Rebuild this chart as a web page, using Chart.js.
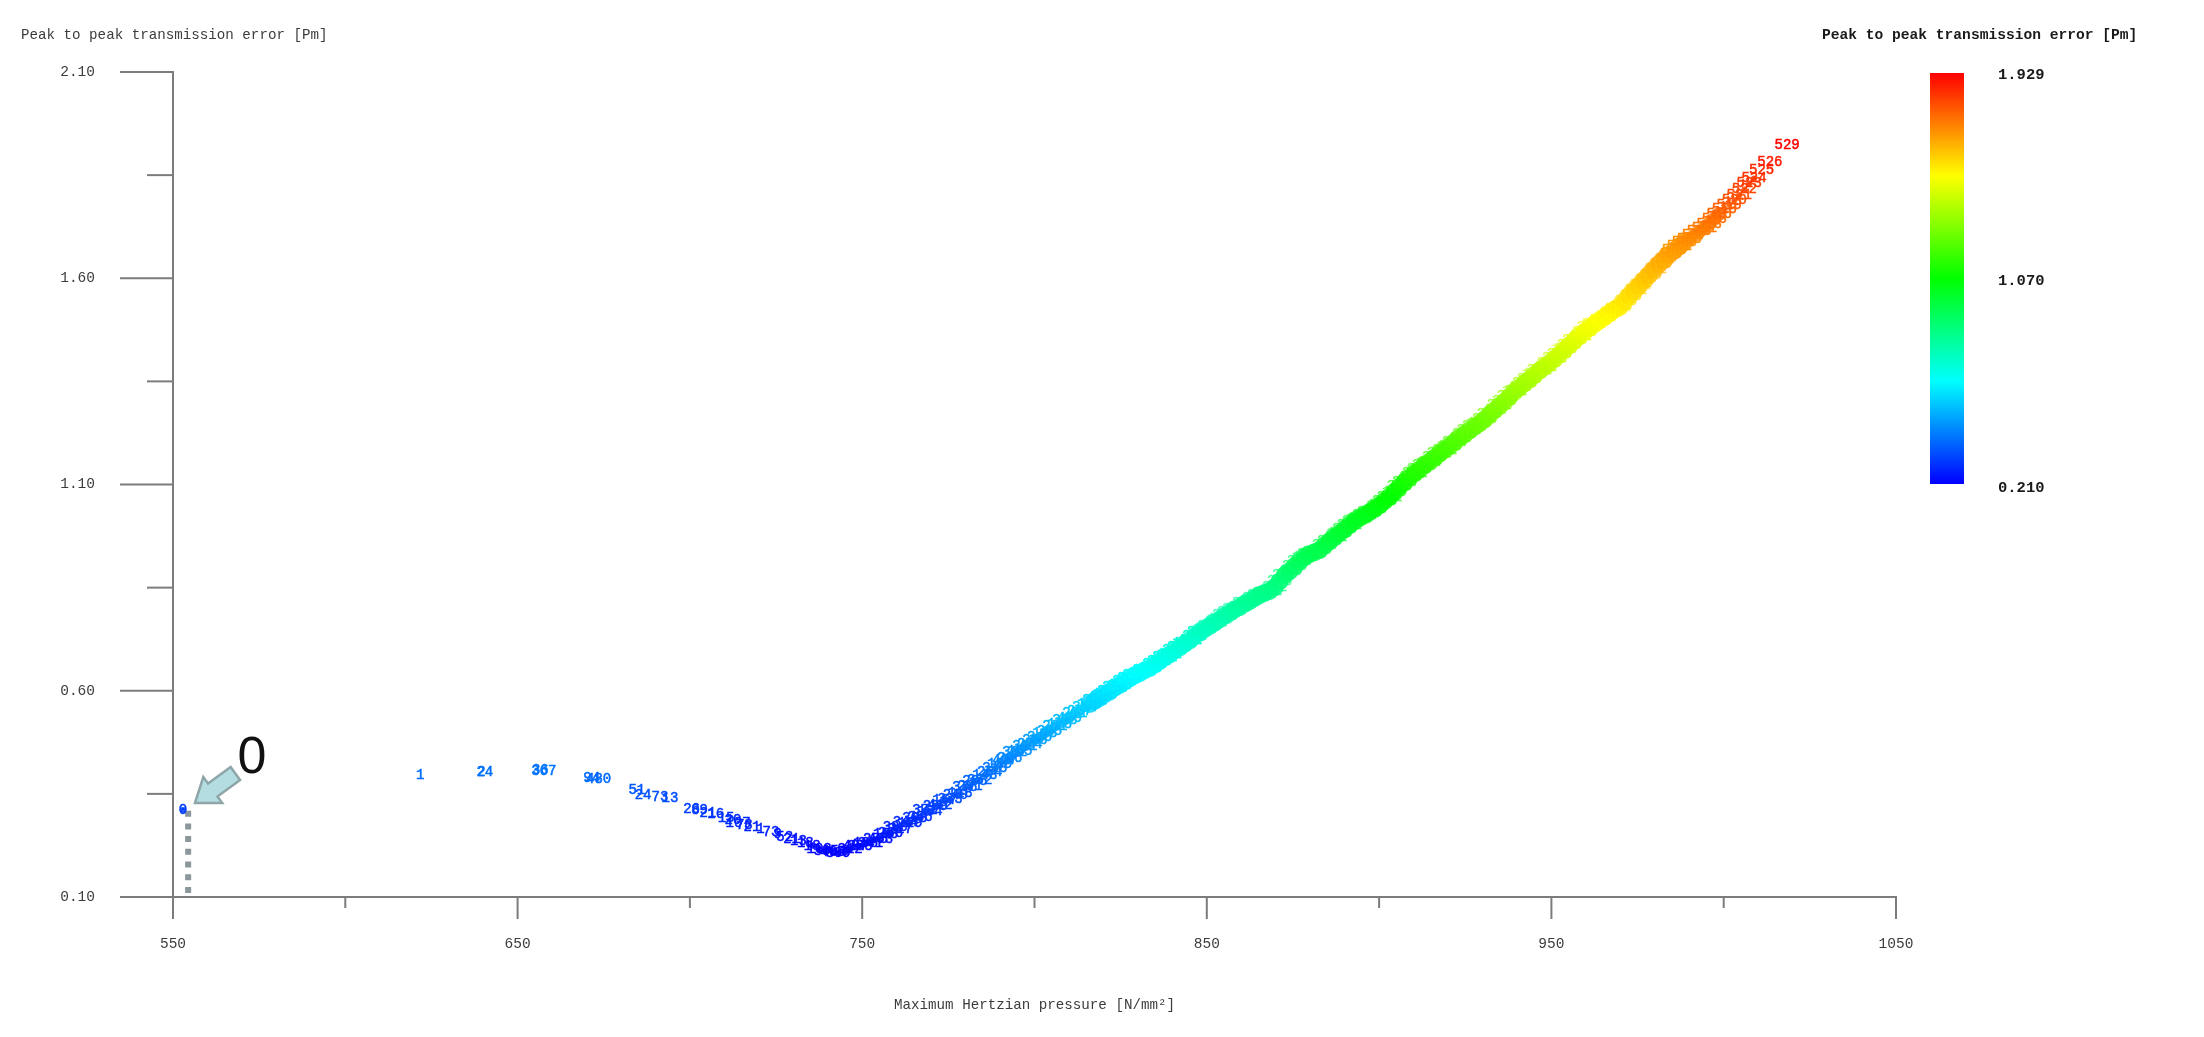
<!DOCTYPE html>
<html><head><meta charset="utf-8">
<script src="https://cdn.jsdelivr.net/npm/chart.js@4"></script>
<style>html,body{margin:0;padding:0;background:#fff}canvas{display:block;filter:blur(.6px)}</style>
</head><body><canvas id="c" width="2204" height="1037"></canvas>
<script>
const yTitle = "Peak to peak transmission error [Pm]";
const xTitle = "Maximum Hertzian pressure [N/mm²]";
const colorbarTitle = "Peak to peak transmission error [Pm]";
const calloutText = "0";
const xTickValues = [550,600,650,700,750,800,850,900,950,1000,1050];
const xTickLabels = ["550","","650","","750","","850","","950","","1050"];
const yTickValues = [0.10,0.35,0.60,0.85,1.10,1.35,1.60,1.85,2.10];
const yTickLabels = ["0.10","","0.60","","1.10","","1.60","","2.10"];
const colorbarValues = [1.929,1.070,0.210];
const dottedPressure = [554.4,554.4];
const dottedError = [0.11,0.31];
const pressure = [552.9,621.7,639.5,640.5,656.6,657.6,671.5,673.5,684.6,686.4,691.3,694.2,
700.5,702.8,705.2,707.5,710.5,712.5,714.0,715.8,718.0,720.5,723.5,725.5,727.5,729.5,731.5,733.5,735.5,737.5,739.5,741.5,743.0,745.0,
746.5,748.0,749.4,751.0,752.4,753.9,755.3,756.8,758.2,759.6,761.0,762.5,763.9,765.3,766.8,768.2,769.7,771.2,772.6,774.0,775.5,777.0,778.4,779.8,781.3,782.7,784.1,785.6,787.0,788.5,789.9,791.4,792.8,794.3,795.7,797.2,798.6,800.1,801.5,803.0,804.4,805.9,807.3,808.8,810.2,811.7,813.1,814.6,816.0,817.5,818.9,820.4,821.8,823.3,824.7,826.2,827.6,829.1,830.5,832.0,833.4,834.9,836.3,837.8,839.2,840.7,842.1,843.6,845.0,846.5,847.9,849.4,850.8,852.3,853.7,855.2,856.6,858.1,859.5,861.0,862.4,863.9,865.3,866.8,868.2,869.7,871.1,872.6,874.0,875.5,876.9,878.4,879.8,881.3,882.7,884.2,885.6,887.1,888.5,890.0,891.4,892.9,894.3,895.8,897.2,898.7,900.1,901.6,903.0,904.5,905.9,907.4,908.8,910.3,911.7,913.2,914.6,916.1,917.5,919.0,920.4,921.9,923.3,924.8,926.2,927.7,929.1,930.6,932.0,933.5,934.9,936.4,937.8,939.3,940.7,942.2,943.6,945.1,946.5,948.0,949.4,950.9,952.3,953.8,955.2,956.7,958.1,959.6,961.0,962.5,963.9,965.4,966.8,968.3,969.7,971.2,972.6,974.1,975.5,977.0,978.4,979.9,981.3,982.8,984.2,985.7,987.1,988.6,990.0,991.5,992.9,994.4,995.8,997.3,998.7,1000.2,1001.6,1003.1,1004.5,1006.0,1007.4,1008.8,1011.0,1013.4,1018.4];
const error = [0.311,0.396,0.403,0.402,0.406,0.405,0.388,0.385,0.359,0.347,0.342,0.340,
0.313,0.309,0.304,0.300,0.292,0.287,0.279,0.274,0.268,0.263,0.257,0.252,0.245,0.240,0.235,0.229,0.224,0.216,0.212,0.209,0.205,0.212,
0.216,0.222,0.224,0.231,0.230,0.240,0.239,0.251,0.254,0.268,0.265,0.280,0.279,0.291,0.293,0.309,0.308,0.320,0.322,0.335,0.336,0.347,0.351,0.365,0.368,0.381,0.383,0.396,0.402,0.413,0.422,0.432,0.437,0.450,0.454,0.465,0.470,0.481,0.486,0.497,0.502,0.513,0.519,0.528,0.534,0.545,0.551,0.560,0.568,0.576,0.583,0.592,0.598,0.608,0.614,0.623,0.630,0.637,0.643,0.650,0.655,0.664,0.672,0.681,0.688,0.698,0.705,0.714,0.722,0.733,0.741,0.750,0.757,0.765,0.773,0.782,0.789,0.797,0.803,0.811,0.817,0.825,0.832,0.837,0.842,0.851,0.865,0.880,0.890,0.902,0.914,0.924,0.931,0.936,0.941,0.953,0.962,0.973,0.982,0.992,1.002,1.011,1.019,1.026,1.033,1.041,1.050,1.060,1.070,1.082,1.095,1.106,1.117,1.128,1.136,1.147,1.155,1.165,1.175,1.184,1.193,1.203,1.213,1.222,1.231,1.240,1.248,1.258,1.269,1.280,1.291,1.301,1.313,1.325,1.335,1.346,1.355,1.366,1.376,1.385,1.394,1.405,1.415,1.427,1.438,1.449,1.460,1.470,1.480,1.489,1.497,1.506,1.515,1.524,1.530,1.543,1.557,1.570,1.582,1.596,1.608,1.622,1.635,1.645,1.657,1.667,1.677,1.688,1.695,1.704,1.713,1.722,1.732,1.744,1.756,1.768,1.778,1.790,1.802,1.815,1.830,1.842,1.862,1.882,1.923];
const runIds = [0,1,2,24,36,367,94,480,51,24,73,13,
26,89,21,16,15,20,107,73,21,1,73,9,52,21,13,18,18,103,305,405,309,3,
312,407,288,196,341,275,403,158,266,390,217,344,129,308,256,371,184,299,412,167,333,240,118,376,291,205,352,143,264,318,189,427,236,302,155,381,274,213,346,128,395,261,178,323,439,201,287,364,146,252,410,193,329,271,138,386,224,357,170,298,443,209,315,251,162,378,286,134,421,243,337,195,269,402,152,311,228,388,176,295,449,219,343,260,141,372,283,207,416,235,325,166,392,278,149,354,245,431,188,306,262,397,172,340,223,455,197,316,281,159,383,248,426,211,335,267,144,399,232,361,183,294,458,215,328,255,169,374,289,436,202,349,277,151,406,238,366,185,301,462,220,332,258,174,379,293,441,206,347,270,465,468,470,472,474,476,478,481,484,487,490,492,495,497,499,500,501,503,505,507,509,511,513,515,516,518,519,520,521,522,523,524,525,526,529];

const colorStops = [[0,[0,0,255]],[0.25,[0,255,255]],[0.5,[0,255,0]],[0.75,[255,255,0]],[1,[255,0,0]]];
function colorFor(v,a){
  const lo=colorbarValues[2],hi=colorbarValues[0];
  const t=Math.min(1,Math.max(0,(v-lo)/(hi-lo)));
  for(let i=1;i<colorStops.length;i++){
    if(t<=colorStops[i][0]){
      const [t0,c0]=colorStops[i-1],[t1,c1]=colorStops[i];
      const f=(t-t0)/(t1-t0);
      const c=c0.map((x,k)=>Math.round(x+(c1[k]-x)*f));
      return `rgba(${c[0]},${c[1]},${c[2]},${a})`;
    }
  }
  return `rgba(255,0,0,${a})`;
}
function radiusFor(p){ if(p<560) return 3; if(p<735) return 0; if(p<790) return 3; if(p<815) return 5; if(p<990) return 9; if(p<1000) return 7; if(p<1009) return 3; return 0; }
function labelAlpha(v){ return v<0.75||v>1.65?1:0.6; }

const MONO='"Liberation Mono","DejaVu Sans Mono",monospace';
const AXIS='#7c7c7c', TXT='#3c3c3c';

const annotate={
  id:'annotate',
  afterDatasetsDraw(chart){
    const ctx=chart.ctx, meta=chart.getDatasetMeta(0);
    ctx.save();
    ctx.font='14px '+MONO; ctx.textAlign='center'; ctx.textBaseline='middle'; ctx.lineWidth=0.5;
    meta.data.forEach((el,i)=>{
      const col=colorFor(error[i],labelAlpha(error[i]));
      ctx.fillStyle=col; ctx.strokeStyle=col;
      ctx.fillText(String(runIds[i]),el.x,el.y);
      ctx.strokeText(String(runIds[i]),el.x,el.y);
    });
    ctx.restore();
  },
  afterDraw(chart){
    const ctx=chart.ctx,{x,y}=chart.scales;
    ctx.save();
    ctx.strokeStyle=AXIS; ctx.lineWidth=2;
    y.ticks.forEach((t,i)=>{const p=y.getPixelForValue(t.value),len=yTickLabels[i]?53:26;
      ctx.beginPath();ctx.moveTo(x.left,p);ctx.lineTo(x.left-len,p);ctx.stroke();});
    x.ticks.forEach((t,i)=>{const p=x.getPixelForValue(t.value),len=xTickLabels[i]?22:11;
      ctx.beginPath();ctx.moveTo(p,y.bottom);ctx.lineTo(p,y.bottom+len);ctx.stroke();});
    ctx.fillStyle=TXT; ctx.textBaseline='middle'; ctx.textAlign='left';
    ctx.font='14.2px '+MONO; ctx.fillText(yTitle,21,35);
    ctx.fillStyle='#1a1a1a';
    ctx.font='bold 14.6px '+MONO; ctx.fillText(colorbarTitle,1822,35);
    const bx=1930,bw=34,bt=73,bb=484;
    const g=ctx.createLinearGradient(0,bb,0,bt);
    colorStops.forEach(([s])=>g.addColorStop(s,colorFor(colorbarValues[2]+s*(colorbarValues[0]-colorbarValues[2]),1)));
    ctx.fillStyle=g; ctx.fillRect(bx,bt,bw,bb-bt);
    ctx.fillStyle='#1a1a1a'; ctx.font='bold 15.5px '+MONO;
    colorbarValues.forEach(v=>{
      const f=(v-colorbarValues[2])/(colorbarValues[0]-colorbarValues[2]);
      ctx.fillText(v.toFixed(3),1998,bb+4-f*(bb-bt+2));
    });
    const tipX=x.getPixelForValue(pressure[0])+12, tipY=y.getPixelForValue(error[0])-7;
    ctx.translate(tipX,tipY); ctx.rotate(Math.atan2(-30,41));
    ctx.beginPath();
    ctx.moveTo(0,0);ctx.lineTo(22,-16);ctx.lineTo(22,-8);ctx.lineTo(50,-8);ctx.lineTo(50,8);ctx.lineTo(22,8);ctx.lineTo(22,16);ctx.closePath();
    ctx.fillStyle='#b4dde2';ctx.fill();ctx.strokeStyle='#8ea6a8';ctx.lineWidth=2.5;ctx.stroke();
    ctx.setTransform(chart.currentDevicePixelRatio,0,0,chart.currentDevicePixelRatio,0,0);
    ctx.fillStyle='#111';ctx.font='52px "Liberation Sans",Arial,sans-serif';ctx.textAlign='center';
    ctx.fillText(calloutText,tipX+57,tipY-44);
    ctx.restore();
  }
};

new Chart(document.getElementById('c'),{
  type:'scatter',
  data:{datasets:[
    {label:'Runs',data:pressure.map((p,i)=>({x:p,y:error[i]})),
     pointRadius:c=>radiusFor(pressure[c.dataIndex]),
     pointBorderWidth:0,
     pointBackgroundColor:c=>colorFor(error[c.dataIndex],0.85),
     order:1},
    {label:'Dotted',data:dottedPressure.map((p,i)=>({x:p,y:dottedError[i]})),showLine:true,pointRadius:0,
     borderColor:'#8b979b',borderWidth:6,borderDash:[6,6.7],order:2}
  ]},
  options:{
    responsive:false,animation:false,
    layout:{padding:{left:0,right:308,top:72,bottom:0}},
    plugins:{legend:{display:false},title:{display:false},tooltip:{enabled:false}},
    scales:{
      x:{type:'linear',min:550,max:1050,
        afterBuildTicks:s=>{s.ticks=xTickValues.map(v=>({value:v}));},
        afterFit:s=>{s.height=140;s.paddingLeft=0;s.paddingRight=0;},
        grid:{display:false,drawTicks:false},
        border:{display:true,color:AXIS,width:2},
        ticks:{autoSkip:false,maxRotation:0,padding:38,color:TXT,font:{family:MONO,size:14.5},
          callback:v=>xTickLabels[xTickValues.indexOf(v)]},
        title:{display:true,text:xTitle,color:TXT,font:{family:MONO,size:14.2},padding:{top:0,bottom:23}}
      },
      y:{type:'linear',min:0.10,max:2.10,
        afterBuildTicks:s=>{s.ticks=yTickValues.map(v=>({value:v}));},
        afterFit:s=>{s.width=173;s.paddingTop=0;s.paddingBottom=0;},
        grid:{display:false,drawTicks:false},
        border:{display:true,color:AXIS,width:2},
        ticks:{autoSkip:false,padding:78,color:TXT,font:{family:MONO,size:14.5},
          callback:v=>yTickLabels[yTickValues.indexOf(v)]}
      }
    }
  },
  plugins:[annotate]
});
</script></body></html>
